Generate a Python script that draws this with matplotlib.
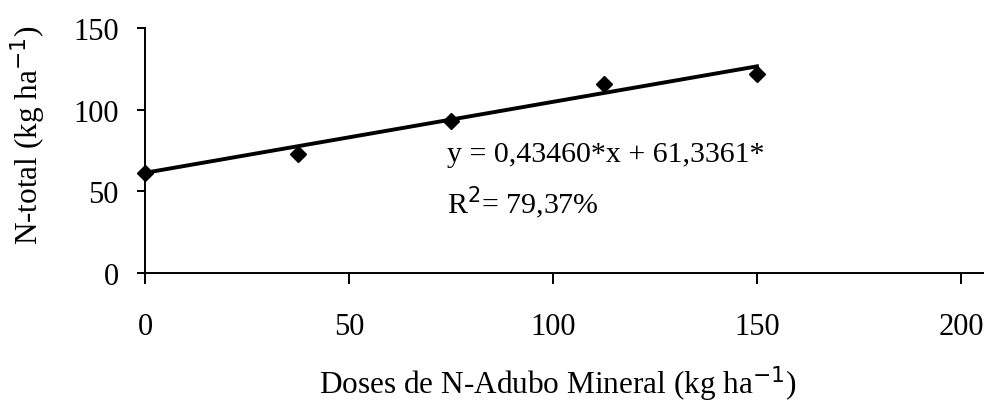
import numpy as np
import matplotlib
matplotlib.use("Agg")
import matplotlib.pyplot as plt

# doses (kg/ha) and measured N-total
doses = [0, 37.5, 75, 112.5, 150]
n_total = [61, 73, 93, 116, 122]

# fitted line
slope = 0.43460
intercept = 61.3361

x_ticks = [0, 50, 100, 150, 200]
y_ticks = [0, 50, 100, 150]

plt.rcParams['font.family'] = ['Liberation Serif', 'DejaVu Serif']

fig = plt.figure(figsize=(9.85, 4.06), dpi=100)
ax = fig.add_axes([145 / 985, 1 - 274 / 406, (983 - 145) / 985, (274 - 29) / 406])

fit_x = np.array([doses[0], doses[-1]])
ax.plot(fit_x, slope * fit_x + intercept, color='black', lw=2.8, zorder=2)
ax.plot(doses, n_total, 'D', color='black', ms=8, zorder=3, clip_on=False)

ax.set_xlim(0, (983 - 145) / ((961 - 145) / 200))
ax.set_ylim(0, 150)
ax.set_xticks(x_ticks)
ax.set_yticks(y_ticks)

for s in ['top', 'right']:
    ax.spines[s].set_visible(False)
for s in ['left', 'bottom']:
    ax.spines[s].set_linewidth(1.4)

ax.tick_params(axis='x', direction='out', length=8, width=1.4, pad=20, labelsize=22)
ax.tick_params(axis='y', direction='out', length=6, width=1.4, pad=13, labelsize=22)

ax.set_xlabel('Doses de N-Adubo Mineral (kg ha$^{-1}$)', fontsize=22.5)
ax.set_ylabel('N-total (kg ha$^{-1}$)', fontsize=22.5)
ax.xaxis.set_label_coords(0.493, -0.37)
ax.yaxis.set_label_coords(-0.116, 0.567)

ax.text(74, 73, 'y = 0,43460*x + 61,3361*', fontsize=21.5, va='center', ha='left')
ax.text(74, 44, 'R$^{2}$= 79,37%', fontsize=21.5, va='center', ha='left')

fig.savefig('out.png', dpi=100)
